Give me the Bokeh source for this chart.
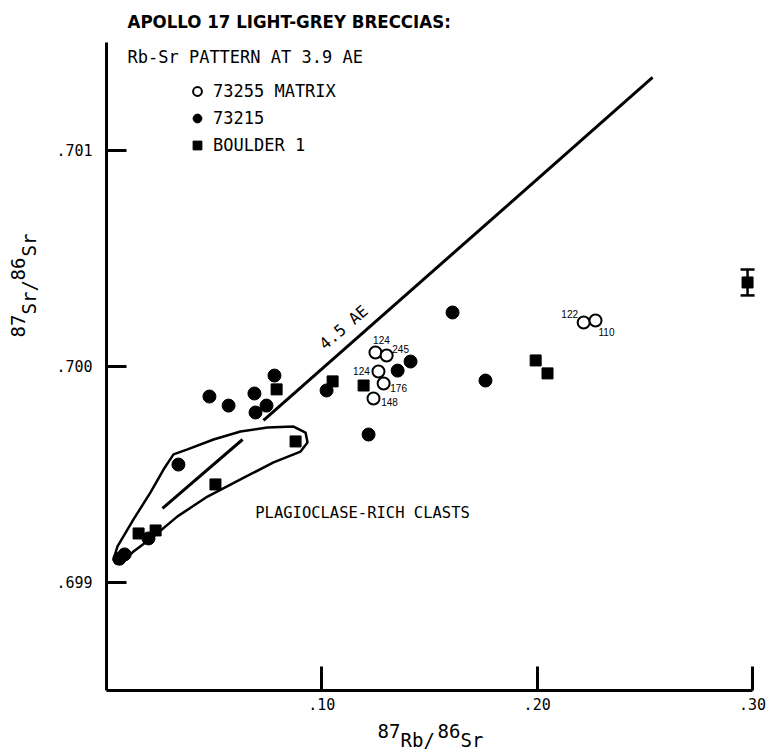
import math
from bokeh.plotting import figure
from bokeh.models import (Range1d, FixedTicker, CustomJSTickFormatter, Label, Legend,
                          LegendItem, ColumnDataSource, Whisker, TeeHead)
from bokeh.core.properties import value
from bokeh.embed import file_html
from bokeh.resources import INLINE

# ---------------- data ----------------
# 73255 matrix (open circles) with sample labels
matrix_x = [0.1249, 0.1301, 0.1263, 0.1287, 0.1240, 0.2216, 0.2271]
matrix_y = [0.700065, 0.700051, 0.699977, 0.699921, 0.699852, 0.700204, 0.700213]
matrix_lab = ["124", "245", "124", "176", "148", "122", "110"]

# 73215 (filled circles)
b73215_x = [0.0060, 0.0084, 0.0195, 0.0334, 0.0478, 0.0567, 0.0687, 0.0692, 0.0743,
            0.0780, 0.1022, 0.1217, 0.1352, 0.1412, 0.1607, 0.1760]
b73215_y = [0.699110, 0.699130, 0.699204, 0.699546, 0.699861, 0.699819, 0.699875, 0.699787,
            0.699819, 0.699958, 0.699889, 0.699685, 0.699981, 0.700023, 0.700250, 0.699935]

# Boulder 1 (squares)
boulder_x = [0.0149, 0.0228, 0.0506, 0.0878, 0.0790, 0.1050, 0.1194, 0.1993, 0.2048, 0.2977]
boulder_y = [0.699227, 0.699241, 0.699454, 0.699653, 0.699894, 0.699931, 0.699912,
             0.700028, 0.699968, 0.700389]

# error bar on the highest-Rb boulder point
err_x = [0.2977]
err_y = [0.700389]
err_val = [0.00006]

# 4.5 AE reference line
ref_x = [0.0729, 0.2536]
ref_y = [0.699750, 0.701338]

# plagioclase-clast line
clast_x = [0.0260, 0.0632]
clast_y = [0.699343, 0.699662]

# envelope around plagioclase-rich clasts
env_x = [0.00325, 0.00511, 0.01254, 0.02044, 0.02647, 0.03112, 0.03762, 0.04970, 0.06224,
         0.07478, 0.08686, 0.09243, 0.09336, 0.09011, 0.07757, 0.06224, 0.04691, 0.03298,
         0.02183, 0.01254, 0.00790, 0.00418]
env_y = [0.699106, 0.699167, 0.699292, 0.699417, 0.699523, 0.699593, 0.699616, 0.699662,
         0.699699, 0.699718, 0.699722, 0.699694, 0.699648, 0.699606, 0.699556, 0.699477,
         0.699398, 0.699306, 0.699213, 0.699144, 0.699097, 0.699088]

x_ticks = [0.10, 0.20, 0.30]
y_ticks = [0.699, 0.700, 0.701]
x_axis_bounds = (0.0, 0.30)
y_axis_bounds = (0.6985, 0.7015)

MONO = "DejaVu Sans Mono"
W, H = 768, 750

# ---------------- figure ----------------
p = figure(width=W, height=H,
           x_range=Range1d(-0.049226, 0.307430), y_range=Range1d(0.6982222, 0.7016944),
           output_backend="svg", toolbar_location=None, min_border=0)
p.grid.visible = False
p.outline_line_color = None
p.background_fill_color = "white"
p.border_fill_color = "white"

xa, ya = p.xaxis[0], p.yaxis[0]
xa.fixed_location = y_axis_bounds[0]
ya.fixed_location = x_axis_bounds[0]
xa.bounds = x_axis_bounds
ya.bounds = y_axis_bounds
for ax, tick_in, ticks, digits in ((xa, 24, x_ticks, 2), (ya, 20, y_ticks, 3)):
    ax.ticker = FixedTicker(ticks=ticks)
    ax.formatter = CustomJSTickFormatter(code=f"return tick.toFixed({digits}).replace(/^0/, '')")
    ax.axis_line_width = 3
    ax.axis_line_color = "black"
    ax.major_tick_line_width = 3
    ax.major_tick_line_color = "black"
    ax.major_tick_in = tick_in
    ax.major_tick_out = 0
    ax.minor_tick_in = 0
    ax.minor_tick_out = 0
    ax.major_label_text_font = MONO
    ax.major_label_text_font_size = "15px"
    ax.major_label_text_color = "black"
ya.major_label_standoff = 14
# the "in" part of a fixed-location bottom axis is not drawn, so point the
# "out" part upward instead
xa.major_tick_in = 0
xa.major_tick_out = -24
xa.major_label_standoff = 8

# envelope + lines
p.patch(env_x, env_y, fill_color=None, line_color="black", line_width=2.5)
p.line(ref_x, ref_y, line_color="black", line_width=3)
p.line(clast_x, clast_y, line_color="black", line_width=3)

# points
r_open = p.scatter(matrix_x, matrix_y, marker="circle", size=12, fill_color="white",
                   line_color="black", line_width=2)
r_fill = p.scatter(b73215_x, b73215_y, marker="circle", size=13, fill_color="black",
                   line_color="black")
r_sq = p.scatter(boulder_x, boulder_y, marker="square", size=11, fill_color="black",
                 line_color="black")

src_err = ColumnDataSource(dict(x=err_x, upper=[a + b for a, b in zip(err_y, err_val)],
                                lower=[a - b for a, b in zip(err_y, err_val)]))
p.add_layout(Whisker(base="x", upper="upper", lower="lower", source=src_err, dimension="height",
                     line_width=2.5, line_color="black",
                     upper_head=TeeHead(size=14, line_width=2.5, line_color="black"),
                     lower_head=TeeHead(size=14, line_width=2.5, line_color="black")))

# sample labels next to matrix points
lab_dx = [6, 14, -17, 15, 16, -14, 11]
lab_dy = [-12, -6, 0, 4, 4, -8, 12]
p.text(x=matrix_x, y=matrix_y, text=matrix_lab, x_offset=lab_dx, y_offset=lab_dy,
       text_font=value("Liberation Sans"), text_font_size="10px", text_align="center",
       text_baseline="middle", text_color="black")

# in-plot annotations
p.text(x=[0.1101], y=[0.700181], text=["4.5 AE"], angle=math.radians(40.8),
       text_font=value(MONO), text_font_size="16px", text_align="center",
       text_baseline="middle", text_color="black")
p.text(x=[0.1189], y=[0.699324], text=["PLAGIOCLASE-RICH CLASTS"],
       text_font=value(MONO), text_font_size="15.5px", text_align="center",
       text_baseline="middle", text_color="black")

# legend
legend = Legend(items=[LegendItem(label="73255 MATRIX", renderers=[r_open]),
                       LegendItem(label="73215", renderers=[r_fill]),
                       LegendItem(label="BOULDER 1", renderers=[r_sq])],
                location=(186, H - 156), padding=0, margin=0, spacing=5,
                glyph_width=22, glyph_height=22, label_height=22, label_standoff=5,
                label_text_font=MONO, label_text_font_size="17px",
                label_text_color="black",
                label_text_baseline="middle", border_line_color=None,
                background_fill_alpha=0)
p.add_layout(legend, "center")


def screen_label(txt, px, py, size, font=MONO, style="normal", angle=0.0):
    """Label placed by page pixel position (px, py from top-left)."""
    p.add_layout(Label(x=px, y=H - py, x_units="screen", y_units="screen", text=txt,
                       angle=angle, text_font=font, text_font_style=style,
                       text_font_size=size, text_color="black",
                       text_baseline="middle", text_align="left"))


# title and subtitle
screen_label("APOLLO 17 LIGHT-GREY BRECCIAS:", 127, 21, "18.5px",
             font="DejaVu Sans Condensed", style="bold")
screen_label("Rb-Sr PATTERN AT 3.9 AE", 127, 56, "17px")

# x axis label: 87Rb/86Sr
for txt, px, py in (("87", 377, 730), ("Rb/", 400, 739), ("86", 437, 730), ("Sr", 460, 739)):
    screen_label(txt, px, py, "19px")
# y axis label: 87Sr/86Sr (rotated)
for txt, px, py in (("87", 17, 337), ("Sr/", 28, 314), ("86", 17, 280), ("Sr", 28, 256)):
    screen_label(txt, px, py, "19px", angle=math.pi / 2)

open("out.html", "w").write(file_html(p, INLINE))
